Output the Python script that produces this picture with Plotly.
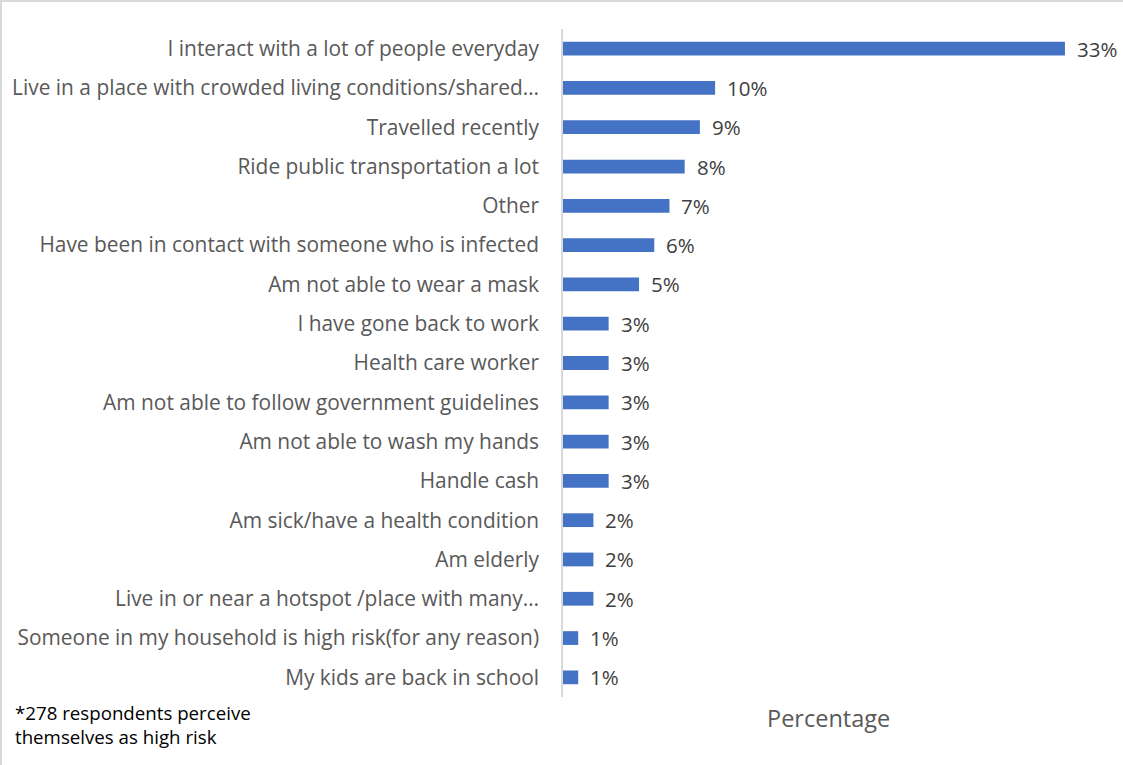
import plotly.graph_objects as go

# Reasons respondents give for perceiving themselves as high risk (top to bottom)
reasons = [
    "I interact with a lot of people everyday",
    "Live in a place with crowded living conditions/shared…",
    "Travelled recently",
    "Ride public transportation a lot",
    "Other",
    "Have been in contact with someone who is infected",
    "Am not able to wear a mask",
    "I have gone back to work",
    "Health care worker",
    "Am not able to follow government guidelines",
    "Am not able to wash my hands",
    "Handle cash",
    "Am sick/have a health condition",
    "Am elderly",
    "Live in or near a hotspot /place with many…",
    "Someone in my household is high risk(for any reason)",
    "My kids are back in school",
]
percentages = [33, 10, 9, 8, 7, 6, 5, 3, 3, 3, 3, 3, 2, 2, 2, 1, 1]

W, H = 1123, 765
ML, MR, MT, MB = 563, 10, 29, 68
plot_w = W - ML - MR
FONT = "Open Sans"

fig = go.Figure(
    go.Bar(
        x=percentages,
        y=reasons,
        orientation="h",
        marker=dict(color="#4472C4", line=dict(width=0)),
        width=0.35,
        hoverinfo="skip",
    )
)


def px_x(px):
    return (px - ML) / plot_w


# value labels just past the end of each bar
value_labels = [
    dict(
        text=f"{v}%",
        x=v, y=r, xref="x", yref="y",
        xanchor="left", yanchor="middle",
        xshift=10, yshift=0,
        showarrow=False,
        font=dict(family=FONT, size=20.5, color="#404040"),
    )
    for r, v in zip(reasons, percentages)
]

fig.update_layout(
    width=W,
    height=H,
    margin=dict(l=ML, r=MR, t=MT, b=MB, pad=0),
    paper_bgcolor="white",
    plot_bgcolor="white",
    showlegend=False,
    font=dict(family=FONT),
    xaxis=dict(
        range=[0, plot_w / 15.21],
        showticklabels=False,
        showgrid=False,
        zeroline=False,
        showline=False,
        ticks="",
    ),
    yaxis=dict(
        categoryorder="array",
        categoryarray=reasons[::-1],
        autorange=True,
        showgrid=False,
        zeroline=False,
        showline=True,
        linecolor="#d9d9d9",
        linewidth=1.5,
        ticks="",
        ticklabelstandoff=18,
        tickfont=dict(family=FONT, size=20.9, color="#595959"),
    ),
    annotations=value_labels + [
        dict(
            text="Percentage",
            xref="paper", yref="paper",
            x=px_x(828), y=0,
            xanchor="center", yanchor="middle",
            yshift=-(718 - (H - MB)),
            showarrow=False,
            font=dict(family=FONT, size=23.5, color="#595959"),
        ),
        dict(
            text="*278 respondents perceive<br>themselves as high risk",
            xref="paper", yref="paper",
            x=px_x(13), y=0,
            xanchor="left", yanchor="top",
            yshift=-(698 - (H - MB)),
            align="left",
            showarrow=False,
            font=dict(family=FONT, size=18.7, color="#000000"),
        ),
    ],
    shapes=[
        # thin frame along the top and left edges of the chart area
        dict(type="line", xref="paper", yref="paper",
             x0=px_x(0), x1=px_x(W), y0=(H - MB - 1) / (H - MT - MB), y1=(H - MB - 1) / (H - MT - MB),
             line=dict(color="#d9d9d9", width=2)),
        dict(type="line", xref="paper", yref="paper",
             x0=px_x(1), x1=px_x(1), y0=-MB / (H - MT - MB), y1=(H - MB) / (H - MT - MB),
             line=dict(color="#d9d9d9", width=2)),
    ],
)

fig.write_html("out.html")
